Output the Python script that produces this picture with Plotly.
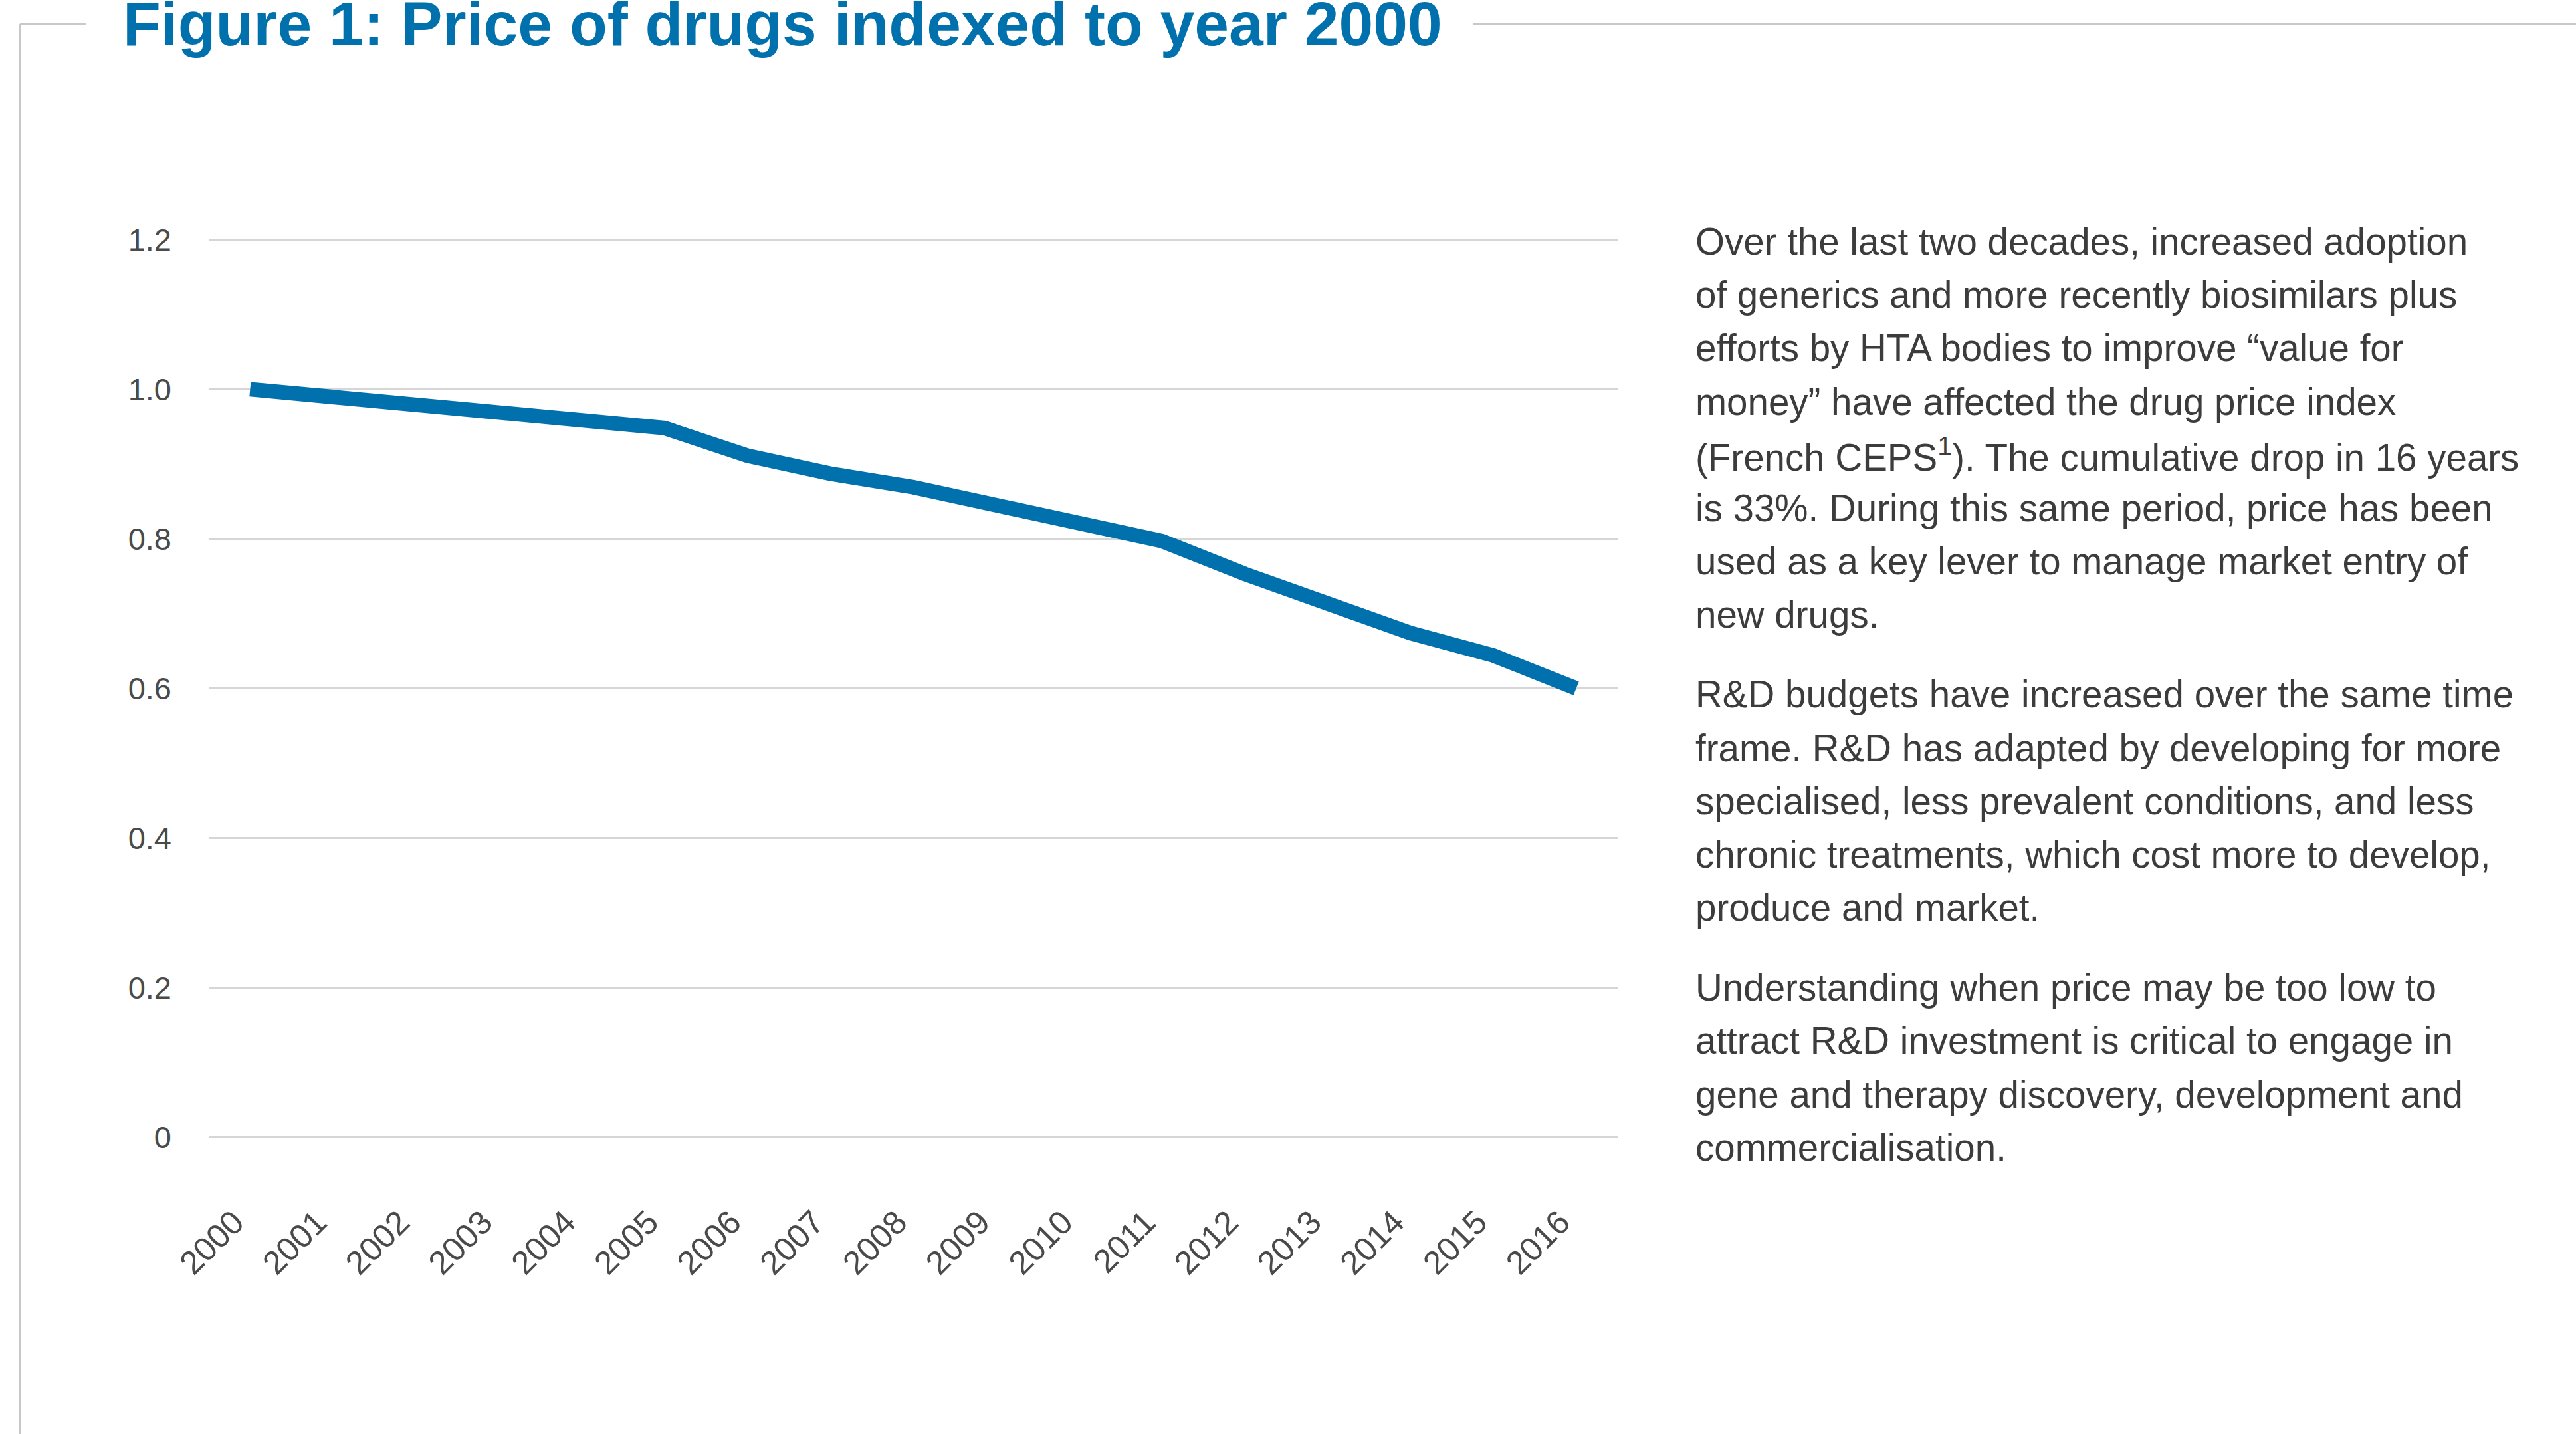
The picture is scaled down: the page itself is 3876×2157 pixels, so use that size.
import plotly.graph_objects as go

# ---- data ----
years = ["2000", "2001", "2002", "2003", "2004", "2005", "2006", "2007", "2008",
         "2009", "2010", "2011", "2012", "2013", "2014", "2015", "2016"]
price_index = [1.00, 0.99, 0.979, 0.967, 0.961, 0.948, 0.911, 0.887, 0.869,
               0.845, 0.821, 0.797, 0.753, 0.716, 0.674, 0.644, 0.600]
y_tick_vals = [0, 0.2, 0.4, 0.6, 0.8, 1.0, 1.2]
y_tick_text = ["0", "0.2", "0.4", "0.6", "0.8", "1.0", "1.2"]

title_text = "Figure 1: Price of drugs indexed to year 2000"
paragraphs = [
    ["Over the last two decades, increased adoption",
     "of generics and more recently biosimilars plus",
     "efforts by HTA bodies to improve \u201cvalue for",
     "money\u201d have affected the drug price index",
     "(French CEPS<sup>1</sup>). The cumulative drop in 16 years",
     "is 33%. During this same period, price has been",
     "used as a key lever to manage market entry of",
     "new drugs."],
    ["R&D budgets have increased over the same time",
     "frame. R&D has adapted by developing for more",
     "specialised, less prevalent conditions, and less",
     "chronic treatments, which cost more to develop,",
     "produce and market."],
    ["Understanding when price may be too low to",
     "attract R&D investment is critical to engage in",
     "gene and therapy discovery, development and",
     "commercialisation."],
]

# ---- layout geometry (pixels) ----
W, H = 3876, 2157
L, R, T, B = 314, 2434, 358, 1713


def px(x):
    return (x - L) / (R - L)


def py(y):
    return (B - y) / (B - T)


FONT = "Liberation Sans, Arial, Helvetica, sans-serif"
BLUE = "#0071AD"
TEXT = "#3c3c3c"
TICK = "#4a4a4a"
FRAME = "#c8c8c8"

fig = go.Figure()
fig.add_trace(go.Scatter(
    x=years, y=price_index, mode="lines",
    line=dict(color=BLUE, width=22),
    hoverinfo="skip", showlegend=False,
))

annotations = [dict(
    text="<b>" + title_text + "</b>", x=px(183), y=py(90),
    xref="paper", yref="paper", xanchor="left", yanchor="bottom",
    showarrow=False, font=dict(family=FONT, size=93, color=BLUE),
)]

FS = 56.5
baseline = 383
for pi, para in enumerate(paragraphs):
    if pi > 0:
        baseline += 120
    for li, line in enumerate(para):
        if li > 0:
            baseline += 80.2
        center = baseline - 0.3465 * FS
        annotations.append(dict(
            text=line, x=px(2549), y=py(center), xref="paper", yref="paper",
            xanchor="left", yanchor="middle", showarrow=False,
            font=dict(family=FONT, size=FS, color=TEXT),
        ))

shapes = [
    dict(type="line", xref="paper", yref="paper", x0=px(30), x1=px(30),
         y0=py(36), y1=py(H + 20), line=dict(color=FRAME, width=3)),
    dict(type="line", xref="paper", yref="paper", x0=px(30), x1=px(130),
         y0=py(36), y1=py(36), line=dict(color=FRAME, width=3)),
    dict(type="line", xref="paper", yref="paper", x0=px(2217), x1=px(W + 20),
         y0=py(36), y1=py(36), line=dict(color=FRAME, width=3)),
]

fig.update_layout(
    width=W, height=H,
    margin=dict(l=L, r=W - R, t=T, b=H - B, pad=0),
    paper_bgcolor="white", plot_bgcolor="white",
    font=dict(family=FONT, color=TEXT),
    showlegend=False,
    annotations=annotations,
    shapes=shapes,
    xaxis=dict(
        type="category", range=[-0.5, 16.5],
        showgrid=False, showline=False, zeroline=False, ticks="",
        tickangle=-45, tickfont=dict(family=FONT, size=50, color=TICK),
        ticklabelstandoff=85, ticklabelshift=-24,
    ),
    yaxis=dict(
        range=[-0.002, 1.202], tickvals=y_tick_vals, ticktext=y_tick_text,
        showgrid=True, gridcolor="#d6d6d6", gridwidth=3,
        showline=False, zeroline=False, ticks="",
        tickfont=dict(family=FONT, size=47, color=TICK),
        ticklabelstandoff=55,
    ),
)

fig.write_html("out.html")
